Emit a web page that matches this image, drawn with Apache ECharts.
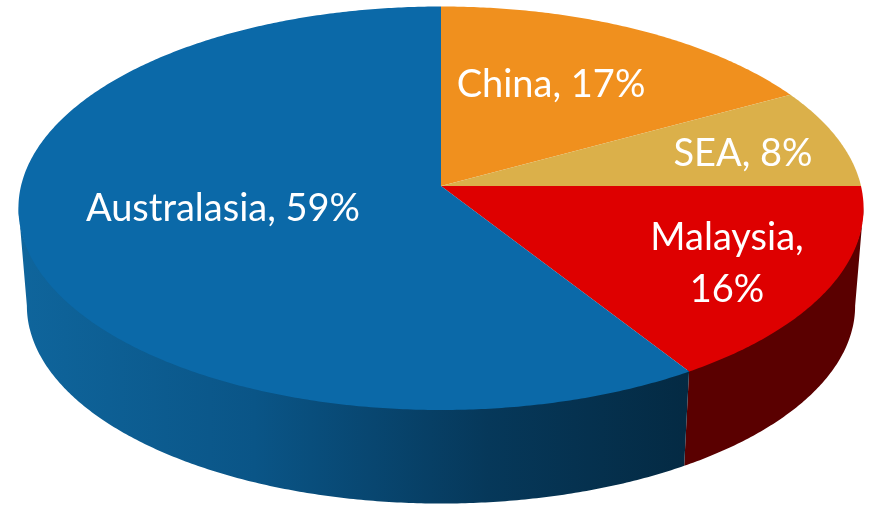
<!DOCTYPE html>
<html>
<head>
<meta charset="utf-8">
<style>
  html, body { margin: 0; padding: 0; background: #fff; }
  #chart { width: 872px; height: 505px; }
</style>
<script src="https://cdn.jsdelivr.net/npm/echarts@6/dist/echarts.min.js"></script>
</head>
<body>
<div id="chart"></div>
<script>
// Revenue share by region, clockwise from twelve o'clock
const categories = ['China', 'SEA', 'Malaysia', 'Australasia'];
const shares = [17, 8, 16, 59];

const topColors = ['#F0901E', '#DBB04A', '#DE0000', '#0B69A8'];
const sideColors = ['#8A5210', '#7D6428', '#5A0000', null];

// Projection of the tilted disc: a unit circle seen in perspective
const VIEW = { cx: 441, cy: 186, rx: 420, ry: 199.3, tilt: 0.1103, depth: 98, shrink: 0.98, step: 0.5, tuck: 2 };

const LABEL_FONT = 'Lato, "Noto Sans", sans-serif';
const LABEL_SIZE = 38;
const LABEL_LINE = 52;
const labelCentres = {
  China: [551, 85],
  SEA: [743, 154],
  Malaysia: [727, 264],
  Australasia: [223, 209]
};
const wrappedLabels = ['Malaysia'];

function project(deg, onBase) {
  const t = deg * Math.PI / 180;
  const X = Math.sin(t);
  const Y = -Math.cos(t);
  const den = 1 - VIEW.tilt * Y;
  const s = onBase ? VIEW.shrink : 1;
  return [
    VIEW.cx + s * VIEW.rx * X / den,
    VIEW.cy + (onBase ? VIEW.depth : 0) + s * VIEW.ry * Y / den
  ];
}

function arc(from, to, onBase) {
  const pts = [];
  const n = Math.max(1, Math.ceil(Math.abs(to - from) / VIEW.step));
  for (let i = 0; i <= n; i++) pts.push(project(from + (to - from) * i / n, onBase));
  return pts;
}

// The wall is only visible between the two silhouette tangents of the disc
const tangent = Math.asin(VIEW.tilt) * 180 / Math.PI;
const wallFrom = 90 + tangent;
const wallTo = 270 - tangent;

const total = shares.reduce((a, b) => a + b, 0);
const blueWall = new echarts.graphic.LinearGradient(20, 0, 689, 0, [
  { offset: 0, color: '#0F659C' },
  { offset: 0.35, color: '#0A5587' },
  { offset: 0.7, color: '#06385A' },
  { offset: 1, color: '#042A43' }
], true);

function renderSlice(params, api) {
  const i = params.dataIndex;
  const before = shares.slice(0, i).reduce((a, b) => a + b, 0);
  const start = before / total * 360;
  const end = start + api.value(0) / total * 360;
  const children = [];

  const a = Math.max(start, wallFrom);
  const b = Math.min(end, wallTo);
  if (b > a) {
    // The upper edge runs slightly under the disc so no seam shows along the rim
    const rim = arc(a, b, false).map(p => [p[0], p[1] - VIEW.tuck]);
    children.push({
      type: 'polygon',
      z2: 1,
      shape: { points: rim.concat(arc(b, a, true)) },
      style: { fill: sideColors[i] || blueWall }
    });
  }

  children.push({
    type: 'polygon',
    z2: 2,
    shape: { points: [[VIEW.cx, VIEW.cy]].concat(arc(start, end, false)) },
    style: { fill: topColors[i] }
  });

  const name = categories[i];
  const sep = wrappedLabels.includes(name) ? ',\n' : ', ';
  children.push({
    type: 'text',
    z2: 3,
    style: {
      x: labelCentres[name][0],
      y: labelCentres[name][1],
      text: name + sep + api.value(0) + '%',
      fill: '#FFFFFF',
      font: LABEL_SIZE + 'px ' + LABEL_FONT,
      lineHeight: LABEL_LINE,
      align: 'center',
      verticalAlign: 'middle'
    }
  });

  return { type: 'group', children };
}

const chart = echarts.init(document.getElementById('chart'), null, { renderer: 'canvas' });
chart.setOption({
  animation: false,
  backgroundColor: '#FFFFFF',
  series: [{
    type: 'custom',
    coordinateSystem: 'none',
    silent: true,
    renderItem: renderSlice,
    data: shares.map((v, i) => ({ name: categories[i], value: [v] }))
  }]
});
</script>
</body>
</html>
